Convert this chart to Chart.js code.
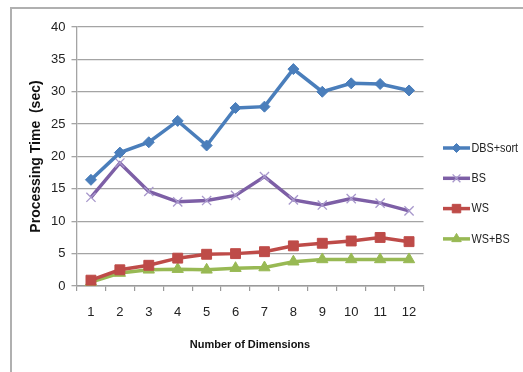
<!DOCTYPE html>
<html>
<head>
<meta charset="utf-8">
<script src="https://cdn.jsdelivr.net/npm/chart.js@4/dist/chart.umd.min.js"></script>
<style>
  html, body { margin: 0; padding: 0; background: #ffffff; }
  #wrap { position: relative; width: 523px; height: 372px; }
  canvas { display: block; }
</style>
</head>
<body>
<div id="wrap"><canvas id="chart" width="523" height="372"></canvas></div>
<script>
// Number of dimensions on the x axis
const dimensions = ['1', '2', '3', '4', '5', '6', '7', '8', '9', '10', '11', '12'];

// Processing time in seconds for each method
const dbsSort = [16.4, 20.6, 22.2, 25.5, 21.7, 27.5, 27.7, 33.5, 30.0, 31.3, 31.2, 30.2];
const bs      = [13.7, 19.0, 14.6, 13.0, 13.2, 14.0, 16.9, 13.3, 12.5, 13.5, 12.8, 11.6];
const ws      = [0.9, 2.5, 3.2, 4.3, 4.9, 5.0, 5.3, 6.2, 6.6, 6.95, 7.5, 6.85];
const wsBs    = [0.6, 2.0, 2.5, 2.6, 2.5, 2.75, 2.85, 3.75, 4.1, 4.1, 4.1, 4.1];

const seriesNames = ['DBS+sort', 'BS', 'WS', 'WS+BS'];
const yTicks = [0, 5, 10, 15, 20, 25, 30, 35, 40];

const sans = "'Liberation Sans', Arial, sans-serif";

function line(label, data, color, pointStyle, pointColor, radius, pbw) {
  return {
    label, data,
    borderColor: color,
    backgroundColor: pointColor,
    pointBorderColor: pointColor,
    pointBackgroundColor: pointColor,
    borderWidth: 3.5,
    pointStyle,
    pointRadius: radius,
    pointBorderWidth: pbw,
    tension: 0,
    fill: false
  };
}

// Side legend: a short line with the series marker, then the name
const sideLegend = {
  id: 'sideLegend',
  afterDraw(chart) {
    const ctx = chart.ctx;
    ctx.save();
    chart.data.datasets.forEach((ds, i) => {
      const y = 148 + i * 30.3;
      ctx.strokeStyle = ds.borderColor;
      ctx.lineWidth = 3.5;
      ctx.beginPath();
      ctx.moveTo(443, y);
      ctx.lineTo(470, y);
      ctx.stroke();
      ctx.fillStyle = ds.pointBackgroundColor;
      ctx.strokeStyle = ds.pointBorderColor;
      ctx.lineWidth = ds.pointBorderWidth;
      Chart.helpers.drawPoint(ctx, {
        pointStyle: ds.pointStyle,
        radius: ds.pointRadius - 1,
        borderWidth: ds.pointBorderWidth,
        rotation: 0
      }, 456.5, y);
      ctx.fillStyle = '#222222';
      ctx.font = "12px " + sans;
      ctx.textBaseline = 'middle';
      ctx.textAlign = 'left';
      // slightly condensed lettering
      ctx.save();
      ctx.translate(471.5, y + 0.5);
      ctx.scale(0.9, 1);
      ctx.fillText(ds.label, 0, 0);
      ctx.restore();
    });
    ctx.restore();
  }
};

// Frame edges along the top and left of the figure
const frame = {
  id: 'frame',
  beforeDraw(chart) {
    const ctx = chart.ctx;
    ctx.save();
    ctx.fillStyle = '#ffffff';
    ctx.fillRect(0, 0, chart.width, chart.height);
    ctx.strokeStyle = '#b0b0b0';
    ctx.lineWidth = 2;
    ctx.beginPath();
    ctx.moveTo(11, 372);
    ctx.lineTo(11, 8);
    ctx.lineTo(523, 8);
    ctx.stroke();
    ctx.restore();
  }
};

new Chart(document.getElementById('chart'), {
  type: 'line',
  data: {
    labels: dimensions,
    datasets: [
      line(seriesNames[0], dbsSort, '#4a7ebb', 'rectRot', '#4a7ebb', 5.5, 1),
      line(seriesNames[1], bs, '#7d5fa6', 'crossRot', '#a898cc', 6.5, 1.3),
      line(seriesNames[2], ws, '#be4b48', 'rect', '#be4b48', 7, 1),
      line(seriesNames[3], wsBs, '#98b954', 'triangle', '#98b954', 6.5, 1)
    ]
  },
  options: {
    responsive: false,
    animation: false,
    devicePixelRatio: 1,
    layout: { padding: { left: 0, right: 99.5, top: 27, bottom: 0 } },
    plugins: {
      legend: { display: false },
      tooltip: { enabled: false }
    },
    scales: {
      x: {
        offset: true,
        afterFit(scale) { scale.height = 86; },
        grid: {
          offset: true,
          drawOnChartArea: false,
          drawTicks: true,
          tickLength: 5,
          color: '#9a9a9a',
          lineWidth: 1.2
        },
        border: { display: true, color: '#9a9a9a', width: 1.5 },
        ticks: {
          color: '#222222',
          padding: 14,
          maxRotation: 0,
          autoSkip: false,
          font: { family: sans, size: 13 }
        },
        title: {
          display: true,
          text: 'Number of Dimensions',
          color: '#111111',
          padding: { top: 0, bottom: 20 },
          font: { family: sans, size: 11, weight: 'bold' }
        }
      },
      y: {
        min: 0,
        max: 40,
        afterFit(scale) { scale.width = 76.5; },
        afterBuildTicks(scale) { scale.ticks = yTicks.map(v => ({ value: v })); },
        grid: {
          color: '#a4a4a4',
          lineWidth: 1.3,
          drawTicks: true,
          tickLength: 5
        },
        border: { display: true, color: '#a4a4a4', width: 1.3 },
        ticks: {
          color: '#222222',
          padding: 6,
          font: { family: sans, size: 13 }
        },
        title: {
          display: true,
          text: 'Processing Time  (sec)',
          color: '#111111',
          padding: { top: 28, bottom: 0 },
          font: { family: sans, size: 14, weight: 'bold' }
        }
      }
    }
  },
  plugins: [frame, sideLegend]
});
</script>
</body>
</html>
